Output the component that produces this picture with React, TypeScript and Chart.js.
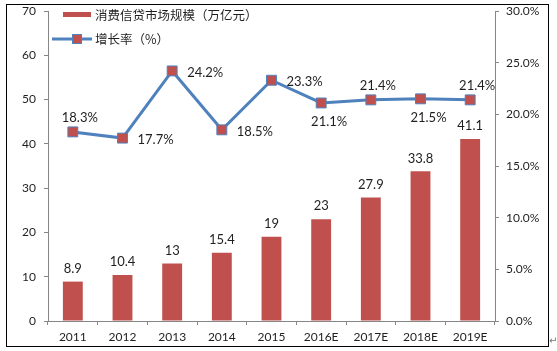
import React, { useEffect, useRef } from 'react';
import { Chart, registerables } from 'chart.js';

Chart.register(...registerables);

const categories = ['2011', '2012', '2013', '2014', '2015', '2016E', '2017E', '2018E', '2019E'];
const marketSize = [8.9, 10.4, 13, 15.4, 19, 23, 27.9, 33.8, 41.1];
const growthRate = [18.3, 17.7, 24.2, 18.5, 23.3, 21.1, 21.4, 21.5, 21.4];
const growthLabelPos = ['top', 'right', 'right', 'right', 'right', 'bottom', 'top', 'bottom', 'top'];
const barName = '消费信贷市场规模（万亿元）';
const lineName = '增长率（%）';

const BAR_COLOR = '#C0504D';
const LINE_COLOR = '#4F81BD';
const AXIS_COLOR = '#868686';
const TEXT_COLOR = '#1f1f1f';

const labelsPlugin = {
  id: 'customLabels',
  afterDatasetsDraw(chart: any) {
    const ctx = chart.ctx;
    ctx.save();
    ctx.fillStyle = TEXT_COLOR;
    ctx.textBaseline = 'middle';
    ctx.font = '13px Lato';
    const barMeta = chart.getDatasetMeta(1);
    barMeta.data.forEach((el: any, i: number) => {
      ctx.textAlign = 'center';
      ctx.fillText(String(marketSize[i]), el.x, el.y - 13);
    });
    const lineMeta = chart.getDatasetMeta(0);
    lineMeta.data.forEach((el: any, i: number) => {
      const txt = growthRate[i].toFixed(1) + '%';
      const pos = growthLabelPos[i];
      if (pos === 'top') {
        ctx.textAlign = 'center';
        ctx.fillText(txt, el.x + 7, el.y - 14);
      } else if (pos === 'bottom') {
        ctx.textAlign = 'center';
        ctx.fillText(txt, el.x + 8, el.y + 19);
      } else {
        ctx.textAlign = 'left';
        ctx.fillText(txt, el.x + 15, el.y + 2);
      }
    });

    // legend
    ctx.font = '12.5px "Noto Sans CJK SC"';
    ctx.textAlign = 'left';
    ctx.fillStyle = BAR_COLOR;
    ctx.fillRect(63, 12, 28, 5);
    ctx.fillStyle = TEXT_COLOR;
    ctx.fillText(barName, 95, 15);

    ctx.strokeStyle = LINE_COLOR;
    ctx.lineWidth = 3;
    ctx.beginPath();
    ctx.moveTo(52, 39);
    ctx.lineTo(92, 39);
    ctx.stroke();
    ctx.fillStyle = BAR_COLOR;
    ctx.fillRect(73, 35, 8, 8);
    ctx.strokeStyle = LINE_COLOR;
    ctx.lineWidth = 1;
    ctx.strokeRect(72.5, 34.5, 9, 9);
    ctx.fillStyle = TEXT_COLOR;
    ctx.fillText(lineName, 95, 39);
    ctx.restore();
  },
};

export default function App() {
  const canvasRef = useRef<HTMLCanvasElement | null>(null);

  useEffect(() => {
    document.body.style.margin = '0';
    const canvas = canvasRef.current;
    if (!canvas) return;
    Chart.defaults.font.family = 'Lato';
    const chart = new Chart(canvas, {
      type: 'bar',
      data: {
        labels: categories,
        datasets: [
          {
            type: 'line',
            label: lineName,
            data: growthRate,
            yAxisID: 'y1',
            borderColor: LINE_COLOR,
            borderWidth: 3,
            pointStyle: 'rect',
            pointRadius: 7,
            pointBackgroundColor: BAR_COLOR,
            pointBorderColor: LINE_COLOR,
            pointBorderWidth: 1,
            tension: 0,
            order: 0,
          } as any,
          {
            type: 'bar',
            label: barName,
            data: marketSize,
            yAxisID: 'y',
            backgroundColor: BAR_COLOR,
            categoryPercentage: 1,
            barPercentage: 0.4,
            order: 1,
          },
        ],
      },
      options: {
        responsive: false,
        animation: false,
        layout: { padding: { top: 11, left: 0, right: 0, bottom: 0 } },
        plugins: {
          legend: { display: false },
          tooltip: { enabled: false },
        },
        scales: {
          x: {
            type: 'category',
            offset: true,
            grid: { offset: true, drawOnChartArea: false, tickLength: 4, color: AXIS_COLOR },
            border: { color: AXIS_COLOR },
            ticks: { color: TEXT_COLOR, font: { size: 12, family: 'Lato' }, padding: 5, maxRotation: 0 },
            afterFit: (s: any) => { s.height = 30; s.paddingLeft = 0; s.paddingRight = 0; },
          },
          y: {
            position: 'left',
            min: 0,
            max: 70,
            ticks: { stepSize: 10, color: TEXT_COLOR, font: { size: 12, family: 'Lato' }, padding: 8 },
            grid: { drawOnChartArea: false, tickLength: 4, color: AXIS_COLOR },
            border: { color: AXIS_COLOR },
            afterFit: (s: any) => { s.width = 48; s.paddingTop = 0; s.paddingBottom = 0; },
          },
          y1: {
            position: 'right',
            min: 0,
            max: 30,
            ticks: {
              stepSize: 5,
              color: TEXT_COLOR,
              font: { size: 12, family: 'Lato' },
              padding: 7,
              callback: (v: any) => Number(v).toFixed(1) + '%',
            },
            grid: { drawOnChartArea: false, tickLength: 4, color: AXIS_COLOR },
            border: { color: AXIS_COLOR },
            afterFit: (s: any) => { s.width = 62; s.paddingTop = 0; s.paddingBottom = 0; },
          },
        },
      },
      plugins: [labelsPlugin],
    });
    return () => chart.destroy();
  }, []);

  return (
    <div style={{ position: 'relative', width: 557, height: 351, background: '#fff' }}>
      <canvas ref={canvasRef} width={557} height={351} style={{ display: 'block' }} />
      <div
        style={{
          position: 'absolute',
          left: 6,
          top: 4,
          width: 543,
          height: 343,
          border: '1px solid #000',
          boxSizing: 'border-box',
          pointerEvents: 'none',
        }}
      />
      <span
        style={{
          position: 'absolute',
          left: 549,
          top: 335,
          fontSize: 10,
          color: '#777',
          fontFamily: 'DejaVu Sans',
        }}
      >
        ↵
      </span>
    </div>
  );
}
